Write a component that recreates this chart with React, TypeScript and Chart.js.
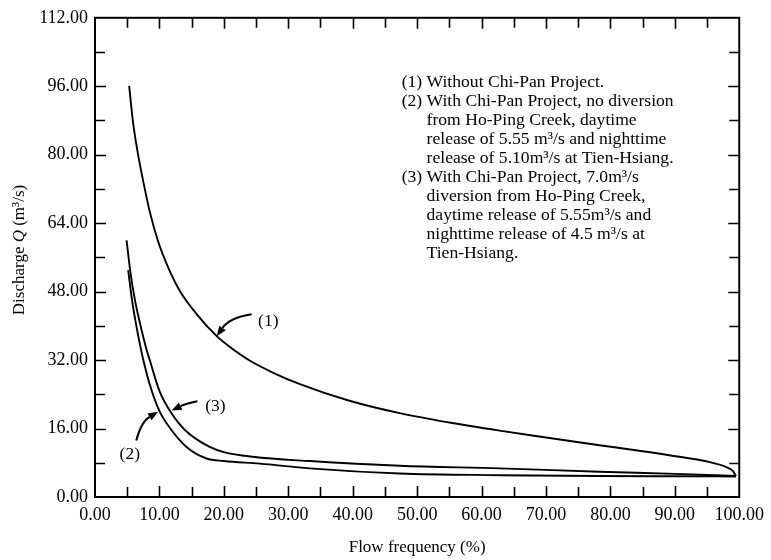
import React, { useEffect, useRef } from "react";
import { Chart, registerables } from "chart.js";

Chart.register(...registerables);

const FONT = '"Liberation Serif", "Times New Roman", serif';

// Curve (1): Without Chi-Pan Project
const freq1 = [5.3, 5.9, 6.7, 7.5, 8.5, 9.8, 11.4, 13.2, 15.8, 18.9, 21, 24, 28, 31.8, 39.5, 47.3, 55, 62.8, 70, 78.3, 85, 90.7, 95.3, 98, 99, 99.5];
const q1 = [96.1, 87.6, 79.9, 73.7, 66.7, 59.7, 53.5, 48.1, 42.7, 37.6, 35.0, 31.9, 28.8, 26.4, 22.5, 19.6, 17.4, 15.5, 13.9, 12.1, 10.7, 9.4, 8.2, 7.0, 6.1, 4.9];

// Curve (2): no diversion
const freq2 = [5.15, 5.7, 6.3, 7.0, 7.5, 8.5, 9.97, 11.9, 14.2, 17.3, 20, 25.6, 33.3, 47.3, 62.8, 78.3, 90, 99.5];
const q2 = [53, 46.5, 41, 35.5, 32, 26.3, 20.2, 15.6, 11.7, 9.0, 8.4, 7.8, 6.7, 5.5, 5.1, 4.9, 4.85, 4.8];

// Curve (3): 7.0 m3/s diversion
const freq3 = [4.9, 5.5, 6.2, 7.0, 7.9, 8.5, 10, 11.6, 14, 17.8, 20, 24.5, 33.3, 47.3, 62.8, 78.3, 90, 99.5];
const q3 = [60, 52.5, 46, 40.5, 35, 32, 24.8, 20.2, 15.6, 11.7, 10.5, 9.4, 8.4, 7.3, 6.7, 5.9, 5.4, 4.9];

const legendLines: [string, boolean][] = [
  ["(1) Without Chi-Pan Project.", false],
  ["(2) With Chi-Pan Project, no diversion", false],
  ["from Ho-Ping Creek, daytime", true],
  ["release of 5.55 m\u00b3/s and nighttime", true],
  ["release of 5.10m\u00b3/s at Tien-Hsiang.", true],
  ["(3) With Chi-Pan Project, 7.0m\u00b3/s", false],
  ["diversion from Ho-Ping Creek,", true],
  ["daytime release of 5.55m\u00b3/s and", true],
  ["nighttime release of 4.5 m\u00b3/s at", true],
  ["Tien-Hsiang.", true],
];

// annotation arrows: [tailX, tailY, ctrlX, ctrlY, tipX, tipY, labelX, labelY, label]
const arrows: [number, number, number, number, number, number, number, number, string][] = [
  [24.3, 42.7, 20.9, 41.9, 18.9, 37.6, 26.9, 41.1, "(1)"],
  [15.9, 22.4, 14.0, 21.8, 11.9, 20.2, 18.7, 21.1, "(3)"],
  [6.4, 13.2, 7.2, 17.6, 9.8, 19.9, 5.4, 10.0, "(2)"],
];

const toPoints = (xs: number[], ys: number[]) => xs.map((x, i) => ({ x, y: ys[i] }));

const framePlugin = {
  id: "frame",
  afterDraw(chart: any) {
    const { ctx, chartArea: a, scales } = chart;
    const xs = scales.x;
    const ys = scales.y;
    ctx.save();
    ctx.strokeStyle = "#000";
    ctx.fillStyle = "#000";
    // frame
    ctx.lineWidth = 2;
    ctx.strokeRect(a.left, a.top, a.right - a.left, a.bottom - a.top);
    // inward ticks
    ctx.lineWidth = 1.6;
    ctx.beginPath();
    for (let v = 5; v < 100; v += 5) {
      const px = Math.round(xs.getPixelForValue(v)) + 0.5;
      const L = v % 10 === 0 ? 11 : 10;
      ctx.moveTo(px, a.bottom);
      ctx.lineTo(px, a.bottom - L);
      ctx.moveTo(px, a.top);
      ctx.lineTo(px, a.top + L);
    }
    for (let v = 8; v < 112; v += 8) {
      const py = Math.round(ys.getPixelForValue(v)) + 0.5;
      const L = v % 16 === 0 ? 11 : 10;
      ctx.moveTo(a.left, py);
      ctx.lineTo(a.left + L, py);
      ctx.moveTo(a.right, py);
      ctx.lineTo(a.right - L, py);
    }
    ctx.stroke();

    // arrows
    ctx.font = `17.5px ${FONT}`;
    ctx.textAlign = "center";
    ctx.textBaseline = "middle";
    for (const [tx, ty, cx, cy, hx, hy, lx, ly, lab] of arrows) {
      const x0 = xs.getPixelForValue(tx), y0 = ys.getPixelForValue(ty);
      const x1 = xs.getPixelForValue(cx), y1 = ys.getPixelForValue(cy);
      const x2 = xs.getPixelForValue(hx), y2 = ys.getPixelForValue(hy);
      const ang = Math.atan2(y2 - y1, x2 - x1);
      const hl = 10, hw = 4;
      const bx = x2 - hl * Math.cos(ang), by = y2 - hl * Math.sin(ang);
      ctx.lineWidth = 2;
      ctx.beginPath();
      ctx.moveTo(x0, y0);
      ctx.quadraticCurveTo(x1, y1, bx, by);
      ctx.stroke();
      ctx.beginPath();
      ctx.moveTo(x2, y2);
      ctx.lineTo(bx + hw * Math.sin(ang), by - hw * Math.cos(ang));
      ctx.lineTo(bx - hw * Math.sin(ang), by + hw * Math.cos(ang));
      ctx.closePath();
      ctx.fill();
      ctx.fillText(lab, xs.getPixelForValue(lx), ys.getPixelForValue(ly));
    }

    // legend text block
    ctx.font = `17.6px ${FONT}`;
    ctx.textAlign = "left";
    ctx.textBaseline = "alphabetic";
    const lx0 = xs.getPixelForValue(47.6);
    const indent = ctx.measureText("(2) ").width;
    let by = a.top + 69;
    for (const [txt, ind] of legendLines) {
      ctx.fillText(txt, ind ? lx0 + indent : lx0, by);
      by += 19;
    }

    // axis titles
    ctx.font = `17px ${FONT}`;
    ctx.textAlign = "center";
    ctx.textBaseline = "middle";
    ctx.fillText("Flow frequency (%)", (a.left + a.right) / 2, 548);

    ctx.translate(20, 250);
    ctx.rotate(-Math.PI / 2);
    const p1 = "Discharge ";
    const p2 = "Q";
    const p3 = " (m\u00b3/s)";
    ctx.font = `17px ${FONT}`;
    const w1 = ctx.measureText(p1).width;
    const w3 = ctx.measureText(p3).width;
    ctx.font = `italic 17px ${FONT}`;
    const w2 = ctx.measureText(p2).width;
    const total = w1 + w2 + w3;
    ctx.textAlign = "left";
    let sx = -total / 2;
    ctx.font = `17px ${FONT}`;
    ctx.fillText(p1, sx, 0);
    sx += w1;
    ctx.font = `italic 17px ${FONT}`;
    ctx.fillText(p2, sx, 0);
    sx += w2;
    ctx.font = `17px ${FONT}`;
    ctx.fillText(p3, sx, 0);
    ctx.restore();
  },
};

export default function App() {
  const ref = useRef<HTMLCanvasElement | null>(null);
  useEffect(() => {
    if (!ref.current) return;
    const line = (xs: number[], ys: number[]) => ({
      data: toPoints(xs, ys),
      borderColor: "#000",
      borderWidth: 1.9,
      pointRadius: 0,
      fill: false,
      cubicInterpolationMode: "monotone" as const,
    });
    const chart = new Chart(ref.current, {
      type: "line",
      data: {
        datasets: [line(freq1, q1), line(freq2, q2), line(freq3, q3)],
      },
      options: {
        animation: false,
        responsive: false,
        devicePixelRatio: 1,
        layout: { padding: { top: 15, right: 31, left: 0, bottom: 0 } },
        plugins: { legend: { display: false }, tooltip: { enabled: false } },
        scales: {
          x: {
            type: "linear",
            min: 0,
            max: 100,
            grid: { display: false, drawTicks: false },
            border: { display: false },
            ticks: {
              stepSize: 10,
              autoSkip: false,
              maxRotation: 0,
              padding: 7,
              color: "#000",
              font: { family: FONT, size: 18 },
              callback: (v: any) => Number(v).toFixed(2),
            },
            afterFit: (s: any) => {
              s.height = 63;
            },
          },
          y: {
            type: "linear",
            min: 0,
            max: 112,
            grid: { display: false, drawTicks: false },
            border: { display: false },
            ticks: {
              stepSize: 16,
              autoSkip: false,
              padding: 7,
              color: "#000",
              font: { family: FONT, size: 18 },
              callback: (v: any) => Number(v).toFixed(2),
            },
            afterFit: (s: any) => {
              s.width = 95;
            },
          },
        },
      },
      plugins: [framePlugin],
    });
    return () => chart.destroy();
  }, []);
  return (
    <div style={{ position: "absolute", left: 0, top: 0, width: 771, height: 560, background: "#fff" }}>
      <canvas ref={ref} width={771} height={560} />
    </div>
  );
}
